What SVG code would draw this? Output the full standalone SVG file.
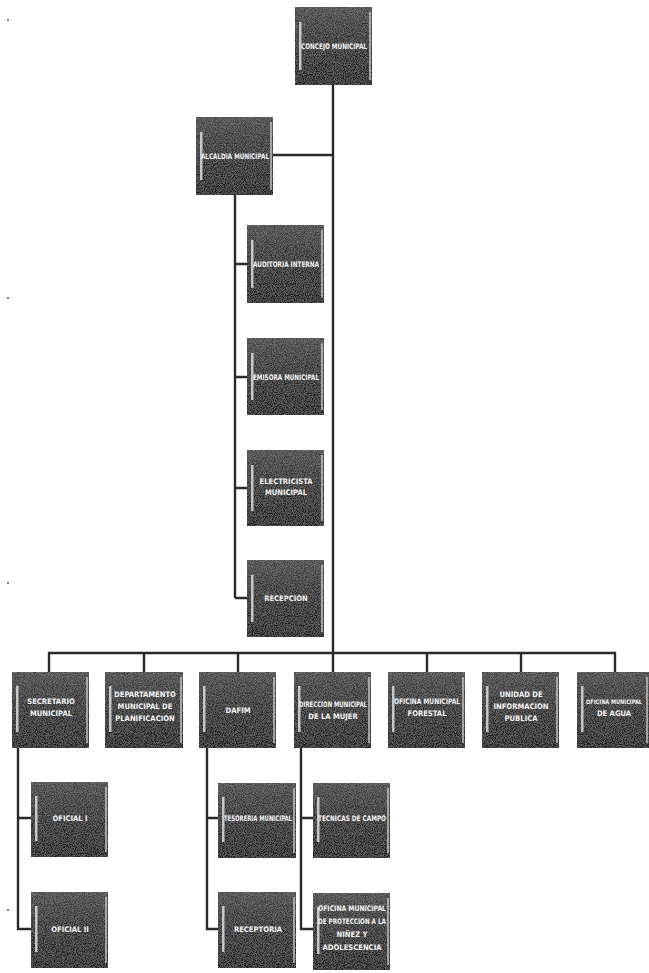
<svg xmlns="http://www.w3.org/2000/svg" width="649" height="973" viewBox="0 0 649 973">
<style>
  .bg{fill:#ffffff}
  .box{fill:url(#bx);filter:url(#grain)}
  .rim{fill:none;stroke:#cfcfcf;stroke-width:1.6;opacity:.85}
  .bar{fill:#dcdcdc;opacity:.85}
  .lbl{fill:#f2f2f2;font-family:"DejaVu Sans Condensed","Liberation Sans Narrow","Liberation Sans",sans-serif;font-size:7.6px;font-weight:bold;text-anchor:middle}
  .sm{font-size:6.2px}
  .conn{fill:none;stroke:#2a2a2a;stroke-width:2.4}
  .dot{fill:#555}
</style>
<defs>
  <linearGradient id="bx" x1="0" y1="0" x2="0" y2="1">
    <stop offset="0" stop-color="#444"/>
    <stop offset="0.35" stop-color="#2e2e2e"/>
    <stop offset="1" stop-color="#151515"/>
  </linearGradient>
  <filter id="grain" x="0" y="0" width="100%" height="100%">
    <feTurbulence type="fractalNoise" baseFrequency="1.1" numOctaves="1" seed="3" result="n"/>
    <feColorMatrix in="n" type="matrix" values="0 0 0 0 1  0 0 0 0 1  0 0 0 0 1  0 0 0 0.35 -0.12" result="w"/>
    <feComposite in="w" in2="SourceGraphic" operator="in" result="wn"/>
    <feMerge><feMergeNode in="SourceGraphic"/><feMergeNode in="wn"/></feMerge>
  </filter>
</defs>
<rect class="bg" x="0" y="0" width="649" height="973"/>

<g id="connectors">
  <path class="conn" d="M333 85 V672"/>
  <path class="conn" d="M273 155 H333"/>
  <path class="conn" d="M235 195 V598"/>
  <path class="conn" d="M235 264 H247 M235 377 H247 M235 488 H247 M235 598 H247"/>
  <path class="conn" d="M49 672 V653 H615 V672"/>
  <path class="conn" d="M144 653 V672 M238 653 V672 M427 653 V672 M521 653 V672"/>
  <path class="conn" d="M18 748 V929 H31 M18 818 H31"/>
  <path class="conn" d="M207 748 V929 H218 M207 818 H218"/>
  <path class="conn" d="M301 748 V929 H313 M301 818 H313"/>
</g>

<g id="concejo">
  <rect class="box" x="295" y="7" width="77" height="78"/>
  <rect class="bar" x="299" y="22" width="2.5" height="48"/>
  <path class="rim" d="M370 12 V80"/>
  <text class="lbl" x="334" y="49" textLength="66" lengthAdjust="spacingAndGlyphs">CONCEJO MUNICIPAL</text>
</g>
<g id="alcaldia">
  <rect class="box" x="196" y="117" width="77" height="78"/>
  <rect class="bar" x="200" y="132" width="2.5" height="48"/>
  <path class="rim" d="M271 122 V190"/>
  <text class="lbl" x="235" y="159" textLength="68" lengthAdjust="spacingAndGlyphs">ALCALDIA MUNICIPAL</text>
</g>
<g id="auditoria">
  <rect class="box" x="247" y="225" width="77" height="78"/>
  <rect class="bar" x="251" y="240" width="2.5" height="48"/>
  <path class="rim" d="M322 230 V298"/>
  <text class="lbl" x="286" y="267" textLength="66" lengthAdjust="spacingAndGlyphs">AUDITORIA INTERNA</text>
</g>
<g id="emisora">
  <rect class="box" x="247" y="338" width="77" height="77"/>
  <rect class="bar" x="251" y="353" width="2.5" height="47"/>
  <path class="rim" d="M322 343 V410"/>
  <text class="lbl" x="286" y="380" textLength="66" lengthAdjust="spacingAndGlyphs">EMISORA MUNICIPAL</text>
</g>
<g id="electricista">
  <rect class="box" x="247" y="450" width="77" height="76"/>
  <rect class="bar" x="251" y="465" width="2.5" height="46"/>
  <path class="rim" d="M322 455 V521"/>
  <text class="lbl" x="286" y="484">ELECTRICISTA</text>
  <text class="lbl" x="286" y="495">MUNICIPAL</text>
</g>
<g id="recepcion">
  <rect class="box" x="247" y="560" width="77" height="77"/>
  <rect class="bar" x="251" y="575" width="2.5" height="47"/>
  <path class="rim" d="M322 565 V632"/>
  <text class="lbl" x="286" y="601">RECEPCION</text>
</g>

<g id="secretario">
  <rect class="box" x="12" y="672" width="77" height="76"/>
  <rect class="bar" x="16" y="686" width="2.5" height="46"/>
  <path class="rim" d="M87 677 V743"/>
  <text class="lbl" x="51" y="704">SECRETARIO</text>
  <text class="lbl" x="51" y="716">MUNICIPAL</text>
</g>
<g id="planificacion">
  <rect class="box" x="105" y="672" width="78" height="76"/>
  <rect class="bar" x="109" y="686" width="2.5" height="46"/>
  <path class="rim" d="M181 677 V743"/>
  <text class="lbl" x="145" y="697">DEPARTAMENTO</text>
  <text class="lbl" x="145" y="709">MUNICIPAL DE</text>
  <text class="lbl" x="145" y="721">PLANIFICACION</text>
</g>
<g id="dafim">
  <rect class="box" x="199" y="672" width="77" height="76"/>
  <rect class="bar" x="203" y="686" width="2.5" height="46"/>
  <path class="rim" d="M274 677 V743"/>
  <text class="lbl" x="238" y="713">DAFIM</text>
</g>
<g id="mujer">
  <rect class="box" x="294" y="672" width="77" height="76"/>
  <rect class="bar" x="298" y="686" width="2.5" height="46"/>
  <path class="rim" d="M369 677 V743"/>
  <text class="lbl" x="333" y="707" textLength="68" lengthAdjust="spacingAndGlyphs">DIRECCION MUNICIPAL</text>
  <text class="lbl" x="333" y="719">DE LA MUJER</text>
</g>
<g id="forestal">
  <rect class="box" x="388" y="672" width="77" height="76"/>
  <rect class="bar" x="392" y="686" width="2.5" height="46"/>
  <path class="rim" d="M463 677 V743"/>
  <text class="lbl" x="427" y="704" textLength="66" lengthAdjust="spacingAndGlyphs">OFICINA MUNICIPAL</text>
  <text class="lbl" x="427" y="716">FORESTAL</text>
</g>
<g id="informacion">
  <rect class="box" x="482" y="672" width="77" height="76"/>
  <rect class="bar" x="486" y="686" width="2.5" height="46"/>
  <path class="rim" d="M557 677 V743"/>
  <text class="lbl" x="521" y="697">UNIDAD DE</text>
  <text class="lbl" x="521" y="709">INFORMACION</text>
  <text class="lbl" x="521" y="721">PUBLICA</text>
</g>
<g id="agua">
  <rect class="box" x="577" y="672" width="72" height="76"/>
  <rect class="bar" x="581" y="686" width="2.5" height="46"/>
  <path class="rim" d="M647 677 V743"/>
  <text class="lbl sm" x="614" y="704" textLength="56" lengthAdjust="spacingAndGlyphs">OFICINA MUNICIPAL</text>
  <text class="lbl" x="614" y="716">DE AGUA</text>
</g>

<g id="oficial1">
  <rect class="box" x="31" y="782" width="77" height="75"/>
  <rect class="bar" x="35" y="796" width="2.5" height="45"/>
  <path class="rim" d="M106 787 V852"/>
  <text class="lbl" x="70" y="821">OFICIAL I</text>
</g>
<g id="oficial2">
  <rect class="box" x="31" y="892" width="77" height="76"/>
  <rect class="bar" x="35" y="906" width="2.5" height="46"/>
  <path class="rim" d="M106 897 V963"/>
  <text class="lbl" x="70" y="932">OFICIAL II</text>
</g>
<g id="tesoreria">
  <rect class="box" x="218" y="783" width="78" height="75"/>
  <rect class="bar" x="222" y="797" width="2.5" height="45"/>
  <path class="rim" d="M294 788 V853"/>
  <text class="lbl" x="258" y="821" textLength="68" lengthAdjust="spacingAndGlyphs">TESORERIA MUNICIPAL</text>
</g>
<g id="receptoria">
  <rect class="box" x="218" y="892" width="78" height="76"/>
  <rect class="bar" x="222" y="906" width="2.5" height="46"/>
  <path class="rim" d="M294 897 V963"/>
  <text class="lbl" x="258" y="932">RECEPTORIA</text>
</g>
<g id="tecnicas">
  <rect class="box" x="313" y="783" width="77" height="75"/>
  <rect class="bar" x="317" y="797" width="2.5" height="45"/>
  <path class="rim" d="M388 788 V853"/>
  <text class="lbl" x="352" y="821" textLength="68" lengthAdjust="spacingAndGlyphs">TECNICAS DE CAMPO</text>
</g>
<g id="proteccion">
  <rect class="box" x="313" y="893" width="77" height="77"/>
  <rect class="bar" x="317" y="907" width="2.5" height="47"/>
  <path class="rim" d="M388 898 V965"/>
  <text class="lbl" x="352" y="911" textLength="68" lengthAdjust="spacingAndGlyphs">OFICINA MUNICIPAL</text>
  <text class="lbl" x="352" y="924" textLength="68" lengthAdjust="spacingAndGlyphs">DE PROTECCION A LA</text>
  <text class="lbl" x="352" y="937">NIÑEZ Y</text>
  <text class="lbl" x="352" y="950">ADOLESCENCIA</text>
</g>

<g id="scan-marks">
  <circle class="dot" cx="8" cy="20" r="1"/>
  <circle class="dot" cx="8" cy="298" r="1"/>
  <circle class="dot" cx="8" cy="583" r="1"/>
  <circle class="dot" cx="8" cy="910" r="1"/>
</g>
</svg>
